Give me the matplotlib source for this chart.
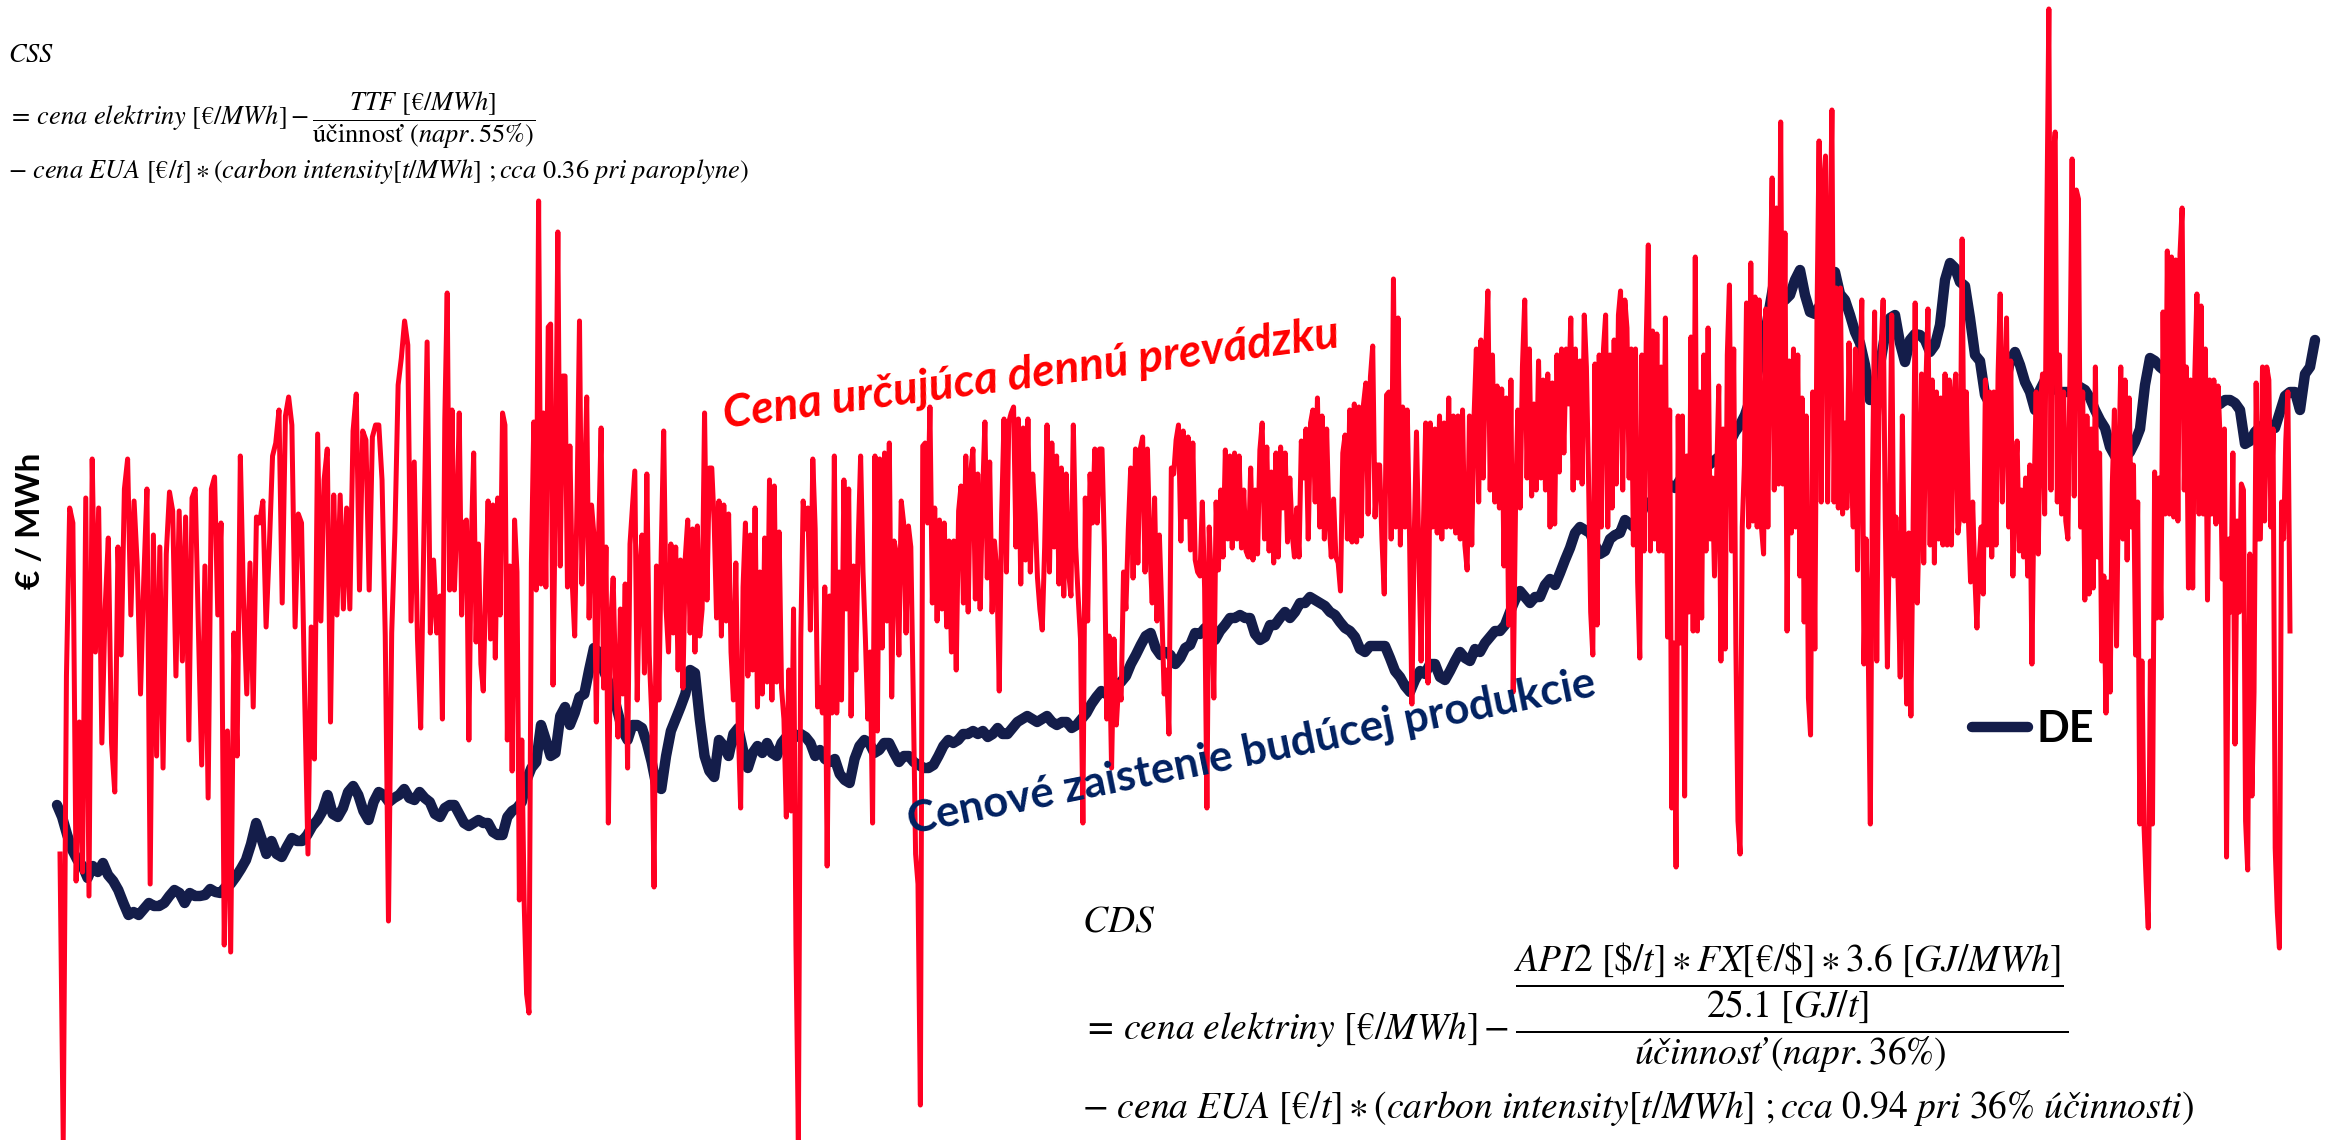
import numpy as np
import matplotlib
matplotlib.use("Agg")
import matplotlib.pyplot as plt
from matplotlib.lines import Line2D

plt.rcParams['mathtext.fontset'] = 'stix'

period_start = [0, 95, 190, 285, 380, 475]
red_last_day = 557.5
navy_first_day = -0.75
navy_last_day = 563.75

# daily price, "Cena určujúca dennú prevádzku" (EUR/MWh)
red_p1 = [28.6, 0, 46.4, 63.2, 61.7, 25.9, 41.8, 26.8, 64.2, 24.4, 68.1, 48.8, 63.2, 39.7, 53.1, 60.2,
          39.7, 34.8, 59.3, 48.5, 65.1, 68.1, 52.5, 63.9, 57.4, 44.6, 55.9, 65.1, 25.6, 60.5, 38.4, 59.3,
          37.2, 58.6, 64.8, 62.9, 46.4, 62.9, 47.9, 62.3, 40.0, 64.2, 65.1, 50.7, 37.5, 57.4, 34.2, 65.1,
          66.3, 52.5, 61.7, 19.5, 40.9, 18.8, 50.7, 38.4, 68.4, 53.7, 44.6, 57.7, 43.3, 62.3, 61.7, 63.9,
          51.3, 59.3, 68.4, 69.7, 73.0, 53.7, 72.4, 74.3, 71.5, 51.3, 62.6, 61.7, 44.0, 28.6, 51.3, 38.1,
          70.6, 51.9, 66.0, 69.1, 41.8, 64.5, 52.5, 64.5, 53.1, 63.2, 53.1, 70.9, 74.6, 55.0, 70.9, 70.0,
          55.0, 70.3, 71.5, 71.5, 66.0, 50.4, 21.9, 50.7, 60.8, 75.5, 78.2, 81.9, 79.5, 51.9, 67.8, 50.1,
          41.2, 60.8, 79.8, 50.7, 58.0, 50.7]
red_p2 = [54.4, 42.1, 72.1, 84.7, 55.0, 73.0, 55.0, 61.7, 72.7, 52.5, 61.7, 62.0, 40.0, 59.6, 68.7, 49.8,
          59.6, 47.6, 44.9, 55.9, 63.9, 50.1, 63.5, 48.2, 64.2, 52.5, 72.7, 71.5, 40.0, 57.4, 36.9, 62.0,
          56.8, 24.0, 40.0, 23.7, 14.6, 12.7, 57.7, 71.8, 55.0, 93.9, 55.6, 72.7, 55.3, 81.3, 81.6, 45.5,
          65.4, 90.8, 57.4, 76.4, 76.4, 55.3, 69.4, 55.6, 50.4, 64.2, 81.9, 55.6, 64.2, 74.3, 52.2, 63.5,
          60.5, 41.8, 60.8, 71.2, 45.2, 59.3, 31.7, 51.9, 56.2, 45.8, 40.3, 53.1, 44.6, 55.6, 37.2, 59.6,
          63.2, 66.9, 44.0, 56.8, 60.5, 46.7, 66.6, 48.5, 42.7, 25.3, 57.4, 44.0, 59.0, 70.9, 53.1, 48.8,
          59.6, 50.7, 59.3, 47.0, 58.0, 45.2, 58.3, 62.0, 50.7, 61.1, 48.8, 61.4, 50.4, 53.1, 72.7, 54.0,
          67.2, 67.2, 61.7, 52.2, 63.9, 50.4, 63.5, 51.9, 62.6, 48.8, 44.0, 57.7, 41.5, 33.2, 55.3, 61.7,
          46.4, 60.5, 47.0, 63.2, 43.3, 56.8, 44.6, 60.2, 45.8, 66.0, 44.0, 65.4, 45.8, 60.8, 45.2, 42.1,
          32.3, 47.0, 32.9, 53.1, 19.5, 0, 50.1, 63.9, 61.1, 63.2, 51.0, 68.1, 61.1, 43.3]
red_p3 = [45.2, 42.7, 55.3, 27.4, 54.4, 42.7, 68.4, 42.7, 56.8, 44.0, 66.0, 53.1, 65.1, 42.4, 57.4, 47.0,
          59.9, 68.4, 56.8, 50.1, 42.1, 48.8, 31.7, 68.4, 40.9, 68.1, 49.2, 68.7, 51.9, 69.7, 44.3, 59.9,
          58.6, 48.5, 63.9, 61.7, 50.7, 61.4, 59.3, 44.6, 28.6, 25.6, 3.5, 69.4, 69.7, 61.7, 73.3, 53.7,
          63.2, 51.9, 62.0, 53.1, 61.7, 51.3, 59.9, 48.8, 59.9, 47.0, 62.9, 65.4, 53.7, 68.4, 52.8, 66.6,
          69.1, 54.1, 66.6, 53.1, 64.2, 71.8, 56.2, 67.8, 52.8, 59.9, 56.8, 44.9, 62.6, 72.1, 56.8, 71.8,
          72.7, 73.3, 59.3, 72.1, 55.6, 71.2, 58.0, 72.1, 56.8, 66.6, 62.6, 56.2, 53.1, 51.0, 59.3, 71.5,
          56.8, 69.7, 59.3, 68.4, 55.6, 67.2, 54.4, 66.6, 56.8, 54.4, 71.5, 59.3, 54.4, 50.1, 31.7, 64.2,
          51.9, 66.6, 61.7, 69.1, 61.7, 69.1, 69.1, 59.3, 42.1, 50.4, 37.2, 50.1, 41.5, 45.8, 44.0, 56.8,
          53.1, 61.1, 67.2, 56.2, 69.1, 57.7, 69.1, 70.3, 56.8, 69.1, 59.3, 53.7, 64.2, 51.9, 60.5, 53.1,
          44.6, 47.0, 40.6, 67.2, 66.6, 70.0, 71.5, 59.9, 70.9, 62.3, 70.3, 59.0, 69.7, 58.0, 56.8]
red_p4 = [56.4, 63.8, 55.2, 33.2, 61.3, 55.2, 44.2, 63.8, 57.0, 65.0, 58.3, 69.0, 60.1, 68.4, 59.2, 68.7,
          60.1, 68.4, 59.2, 65.0, 58.9, 58.3, 67.2, 58.0, 65.0, 58.6, 69.0, 71.7, 60.1, 69.3, 58.9, 66.8,
          57.7, 68.7, 58.3, 69.3, 63.2, 68.7, 59.8, 66.2, 60.7, 58.3, 63.2, 58.3, 69.9, 66.2, 71.1, 60.1,
          71.7, 73.0, 63.8, 74.2, 61.3, 72.4, 60.1, 71.1, 61.9, 58.3, 64.1, 58.3, 57.7, 54.9, 68.7, 70.5,
          60.1, 73.0, 59.8, 73.6, 59.8, 73.3, 60.4, 73.6, 75.7, 62.6, 76.3, 79.4, 62.3, 67.5, 67.5, 60.1,
          54.6, 74.5, 74.8, 60.1, 86.1, 61.3, 82.2, 59.5, 73.3, 61.3, 73.0, 60.1, 43.6, 60.1, 70.8, 58.9,
          47.9, 61.3, 71.7, 45.7, 71.7, 61.3, 71.1, 60.7, 72.4, 60.1, 71.7, 61.3, 74.2, 61.3, 72.4, 60.7,
          72.4, 60.1, 73.0, 59.5, 57.0, 72.4, 59.5, 72.4, 79.1, 63.8, 80.0, 66.2, 78.5, 84.9, 65.0, 78.5,
          63.8, 75.4, 63.2, 75.1, 57.4, 74.2, 51.5, 76.0, 44.8, 63.2, 73.0, 63.2, 77.3, 84.0, 66.2, 79.1,
          64.4, 73.6, 65.0, 77.9, 66.2, 76.0, 65.0, 76.6, 61.3, 75.7, 61.6, 78.5, 66.8, 79.1, 68.7, 79.1,
          73.6, 82.2, 65.0, 79.1, 66.2]
red_p5 = [77.9, 65.6, 82.5, 77.3, 66.2, 52.8, 48.5, 77.6, 51.5, 78.5, 61.3, 79.1, 82.5, 61.3, 78.5, 63.2,
          80.0, 65.6, 82.5, 84.9, 65.0, 84.0, 81.2, 66.2, 79.1, 59.5, 79.1, 55.8, 48.2, 78.5, 58.9, 79.7,
          89.5, 58.9, 80.9, 60.1, 80.6, 58.9, 77.3, 58.9, 82.2, 50.3, 73.0, 33.2, 49.7, 27.3, 72.4, 49.7,
          72.4, 34.4, 68.4, 52.8, 80.3, 50.9, 88.3, 50.9, 74.8, 52.2, 78.5, 58.9, 81.2, 60.1, 66.2, 56.4,
          66.2, 75.4, 47.9, 71.1, 49.1, 78.5, 85.5, 58.9, 79.1, 49.7, 31.9, 28.6, 61.3, 67.5, 83.7, 61.3,
          87.7, 61.9, 84.3, 61.3, 84.0, 61.3, 58.6, 83.1, 61.3, 84.0, 96.2, 65.0, 93.2, 65.6, 101.8, 65.6,
          90.7, 50.9, 77.9, 60.7, 79.1, 61.3, 78.5, 56.4, 74.2, 51.8, 72.4, 44.2, 40.5, 74.8, 49.1, 82.2,
          99.9, 63.8, 95.6, 98.4, 63.8, 87.1, 103.0, 63.8, 85.2, 63.2, 85.2, 62.6, 71.7, 63.2, 79.7, 67.5,
          61.3, 79.1, 57.0, 74.8, 84.0, 47.6, 60.1, 49.1, 31.6, 66.2, 82.8, 47.9, 72.4, 78.8, 84.0, 61.9,
          47.3, 61.9, 82.5, 56.4, 62.3, 55.8, 46.3, 72.4, 56.4, 43.6, 60.7, 42.4, 60.7, 83.7, 53.7, 63.2,
          76.6, 57.7, 75.4, 83.1, 59.5, 76.0, 57.7, 74.8, 60.1, 74.2, 59.5, 76.6, 59.5, 76.0, 59.5, 74.2,
          76.6, 60.7]
red_p6 = [62.6, 90.1, 61.9, 74.8, 61.9, 55.8, 63.8, 56.4, 51.2, 57.7, 61.3, 54.6, 76.0, 59.5, 74.8, 58.3,
          74.8, 59.5, 76.6, 84.6, 63.8, 74.2, 82.2, 61.3, 77.9, 56.4, 65.6, 69.9, 58.9, 65.0, 58.3, 66.2,
          56.4, 67.5, 47.6, 64.4, 74.8, 58.6, 73.6, 76.6, 62.6, 90.7, 113.1, 65.0, 98.1, 100.8, 63.8, 78.5,
          62.6, 74.8, 61.9, 60.1, 77.3, 98.1, 64.4, 95.0, 94.1, 61.3, 74.8, 54.0, 72.4, 54.6, 71.1, 55.2,
          77.3, 58.3, 68.7, 47.9, 56.4, 42.7, 55.8, 44.8, 65.6, 73.0, 49.4, 66.8, 77.3, 60.1, 76.0, 58.0,
          74.2, 61.3, 67.5, 48.5, 63.8, 31.6, 47.9, 31.3, 25.8, 21.2, 47.9, 31.6, 66.8, 52.2, 66.2, 52.2,
          82.8, 62.6, 88.9, 62.6, 88.3, 62.3, 88.0, 61.9, 88.6, 93.2, 65.0, 77.3, 55.2, 76.0, 55.2, 76.6,
          84.6, 62.6, 83.4, 62.6, 79.1, 54.0, 76.0, 62.6, 76.0, 61.6, 75.4, 69.9, 56.1, 71.1, 28.3, 60.1,
          52.8, 68.7, 39.6, 61.9, 52.8, 65.6, 65.0, 31.9, 27.0, 58.6, 34.4, 44.8, 75.7, 60.1, 60.1, 77.3,
          61.9, 77.3, 76.0, 61.3, 71.1, 29.2, 22.8, 19.2, 63.8, 60.1, 69.9, 74.8, 50.9]

# forward price DE, "Cenové zaistenie budúcej produkcie"
navy_p1 = [33.5, 32.3, 30.5, 29.0, 28.0, 27.4, 26.2, 27.4, 26.8, 27.7, 26.5, 25.9, 25.0, 23.7, 22.5, 22.8,
           22.5, 23.1, 23.7, 23.4, 23.4, 23.7, 24.4, 25.0, 24.7, 23.7, 24.7, 24.4, 24.4, 24.5, 25.1, 24.8,
           24.7, 25.3, 25.6, 26.3, 27.1, 28.0, 29.6, 31.7, 30.2, 28.6, 29.9, 28.6, 28.3, 29.3, 30.2, 29.9,
           29.9, 30.5, 31.4, 32.0, 32.9, 34.5, 32.6, 32.3, 33.2, 34.8, 35.4, 34.5, 32.9, 32.0, 33.8, 34.8,
           34.5, 33.8, 34.2, 34.5, 35.1, 34.2, 34.0, 34.8, 34.2, 33.8, 32.6]
navy_p2 = [32.3, 33.2, 33.5, 33.5, 32.6, 31.7, 31.4, 31.7, 32.0, 31.7, 31.7, 30.8, 30.5, 30.5, 32.3, 32.9,
           33.2, 33.8, 36.0, 37.2, 37.8, 41.5, 40.0, 38.4, 38.7, 42.4, 43.3, 41.5, 42.7, 44.3, 44.6, 47.0,
           49.2, 48.8, 47.0, 45.8, 44.6, 42.7, 40.9, 40.0, 41.5, 41.5, 41.2, 39.7, 37.8, 35.4, 35.1, 38.4,
           40.9, 42.1, 43.3, 44.6, 47.0, 46.7, 42.1, 38.4, 36.9, 36.3, 40.0, 39.4, 38.4, 40.6, 41.2, 39.0,
           37.2, 38.7, 39.4, 38.7, 39.7, 38.7, 38.4, 39.7, 40.3, 40.9, 40.3, 40.6, 40.3, 39.7, 38.4]
navy_p3 = [39.0, 38.1, 37.8, 38.1, 36.6, 36.0, 35.7, 38.1, 39.4, 40.0, 39.7, 38.7, 39.0, 39.7, 39.7, 38.7,
           37.8, 38.4, 38.4, 37.8, 37.5, 37.2, 37.2, 37.5, 38.4, 39.4, 40.0, 39.7, 40.0, 40.6, 40.6, 40.9,
           40.6, 40.9, 40.3, 40.6, 41.2, 40.6, 40.6, 41.2, 41.8, 42.1, 42.4, 42.1, 41.8, 42.1, 42.4, 41.8,
           41.5, 41.8, 41.8, 41.2, 41.5, 42.1, 42.7, 43.6, 44.3, 44.9, 44.6, 44.9, 45.5, 45.8, 46.4, 47.6,
           48.5, 49.5, 50.4, 50.7, 49.2, 48.5, 48.8, 48.5, 47.6, 48.2, 49.2, 49.5, 50.7]
navy_p4 = [50.6, 51.2, 50.3, 50.0, 50.9, 51.5, 52.2, 52.2, 52.5, 52.2, 52.2, 50.6, 50.0, 50.3, 51.5, 51.5,
           52.2, 52.8, 52.2, 52.8, 53.7, 53.7, 54.3, 54.0, 53.7, 53.4, 52.8, 52.5, 51.8, 51.2, 50.9, 50.3,
           49.1, 48.8, 49.4, 49.4, 49.4, 49.4, 48.2, 46.9, 46.3, 45.4, 44.8, 46.0, 46.9, 46.6, 47.6, 47.6,
           46.3, 46.0, 46.9, 47.9, 48.8, 48.2, 47.9, 49.1, 48.8, 49.7, 50.3, 50.9, 50.9, 51.5, 52.8, 54.0,
           54.9, 54.3, 53.7, 54.3, 54.3, 55.5, 56.1, 55.5, 56.7, 58.0, 59.2, 60.7]
navy_p5 = [61.3, 61.0, 60.7, 59.5, 58.6, 58.9, 60.1, 60.5, 60.7, 62.0, 61.6, 61.2, 62.4, 63.5, 63.8, 63.2,
           64.2, 65.0, 65.5, 65.2, 66.0, 66.8, 66.5, 66.9, 67.5, 67.2, 67.6, 68.0, 68.4, 68.8, 69.8, 70.8,
           71.5, 72.5, 74.0, 75.5, 78.0, 80.5, 83.5, 86.4, 85.5, 84.0, 84.5, 86.0, 87.0, 84.5, 82.8, 82.6,
           83.5, 85.0, 86.5, 86.8, 84.6, 84.0, 82.5, 80.8, 79.7, 77.5, 74.0, 74.5, 77.5, 80.5, 82.2, 82.5,
           79.7, 77.8, 80.0, 80.6, 80.5, 80.0, 78.8, 79.5, 81.5, 86.0, 87.7, 87.2]
navy_p6 = [85.8, 85.4, 82.2, 78.5, 77.9, 74.5, 73.6, 73.6, 73.6, 75.5, 77.9, 78.8, 77.5, 75.8, 74.8, 73.0,
           75.0, 76.0, 75.4, 75.1, 74.8, 74.8, 74.8, 75.0, 75.3, 75.0, 74.2, 73.0, 72.0, 71.2, 69.3, 68.4,
           68.1, 68.2, 68.8, 69.8, 71.1, 75.5, 78.2, 77.9, 77.3, 76.9, 76.3, 75.8, 75.4, 74.6, 73.9, 74.0,
           74.2, 74.2, 74.2, 73.9, 73.6, 74.0, 74.0, 73.7, 73.0, 69.6, 69.9, 70.8, 71.3, 71.6, 71.5, 71.2,
           72.8, 74.4, 74.8, 74.8, 73.0, 76.6, 77.3, 80.0]

legend_label = "DE"
y_label = "€ / MWh"
red_note = "Cena určujúca dennú prevádzku"
navy_note = "Cenové zaistenie budúcej produkcie"


def block_days(blocks, first, last):
    edges = [first] + period_start[1:] + [last]
    out = []
    for k, blk in enumerate(blocks):
        a, b = edges[k], edges[k + 1]
        n = len(blk)
        if k == len(blocks) - 1:
            out.append(np.linspace(a, b, n))
        else:
            out.append(a + (b - a) * np.arange(n) / n)
    return np.concatenate(out)


red_blocks = [red_p1, red_p2, red_p3, red_p4, red_p5, red_p6]
navy_blocks = [navy_p1, navy_p2, navy_p3, navy_p4, navy_p5, navy_p6]
red_x = block_days(red_blocks, period_start[0], red_last_day)
red_y = np.concatenate(red_blocks)
navy_x = block_days(navy_blocks, navy_first_day, navy_last_day)
navy_y = np.concatenate(navy_blocks)

W, H = 2334, 1140
fig = plt.figure(figsize=(W / 100, H / 100), dpi=100)
ax = fig.add_axes([0, 0, 1, 1])
ax.set_xlim(-15, 568.5)
ax.set_ylim(0, 114)
ax.axis('off')

navy = '#141d4a'
red = '#ff0022'
ax.plot(navy_x, navy_y, color=navy, lw=7.5, solid_joinstyle='round', solid_capstyle='round', zorder=2)
ax.plot(red_x, red_y, color=red, lw=3.6, solid_joinstyle='round', zorder=3)


def fxy(px, py):
    return px / W, 1 - py / H


# legend
handle = Line2D([], [], color=navy, lw=7.5, solid_capstyle='round')
ax.legend([handle], [legend_label], loc='center left', bbox_to_anchor=fxy(1972, 729),
          bbox_transform=fig.transFigure, frameon=False, borderpad=0, borderaxespad=0,
          handlelength=1.3, handletextpad=0.2,
          prop={'family': 'Lato', 'weight': 'bold', 'size': 31})

# y label
fig.text(*fxy(31, 521), y_label, rotation=90, ha='center', va='center',
         family='Lato', weight='bold', fontsize=24, color='black')

# annotations on the lines
fig.text(*fxy(725, 428), red_note, rotation=7.5, rotation_mode='anchor', ha='left', va='baseline',
         family='Lato', weight='bold', style='italic', fontsize=33, color='#ff0000')
fig.text(*fxy(911, 834), navy_note, rotation=11.4, rotation_mode='anchor', ha='left', va='baseline',
         family='Lato', weight='bold', fontsize=31.5, color='#002060')

# spread formulas
css_size = 19
fig.text(*fxy(8, 62), r"$CSS$", fontsize=css_size, ha='left', va='baseline')
fig.text(*fxy(8, 126),
         r"$=\,cena\ elektriny\ [€/MWh]-\dfrac{TTF\ [€/MWh]}{\mathrm{účinnosť}\ (napr.55\%)}$",
         fontsize=css_size, ha='left', va='baseline')
fig.text(*fxy(8, 178),
         r"$-\ cena\ EUA\ [€/t]\ast(carbon\ intensity[t/MWh]\ ;cca\ 0.36\ pri\ paroplyne)$",
         fontsize=css_size, ha='left', va='baseline')

cds_size = 27
fig.text(*fxy(1082, 932), r"$CDS$", fontsize=cds_size, ha='left', va='baseline')
fig.text(*fxy(1082, 1040),
         r"$=\,cena\ elektriny\ [€/MWh]-\dfrac{\dfrac{API2\ [\$/t]\ast FX[€/\$]\ast 3.6\ [GJ/MWh]}"
         r"{25.1\ [GJ/t]}}{účinnosť\ (napr.36\%)}$",
         fontsize=cds_size, ha='left', va='baseline')
fig.text(*fxy(1082, 1118),
         r"$-\ cena\ EUA\ [€/t]\ast(carbon\ intensity[t/MWh]\ ;cca\ 0.94\ pri\ 36\%\ účinnosti)$",
         fontsize=cds_size, ha='left', va='baseline')

fig.savefig('out.png', dpi=100)
